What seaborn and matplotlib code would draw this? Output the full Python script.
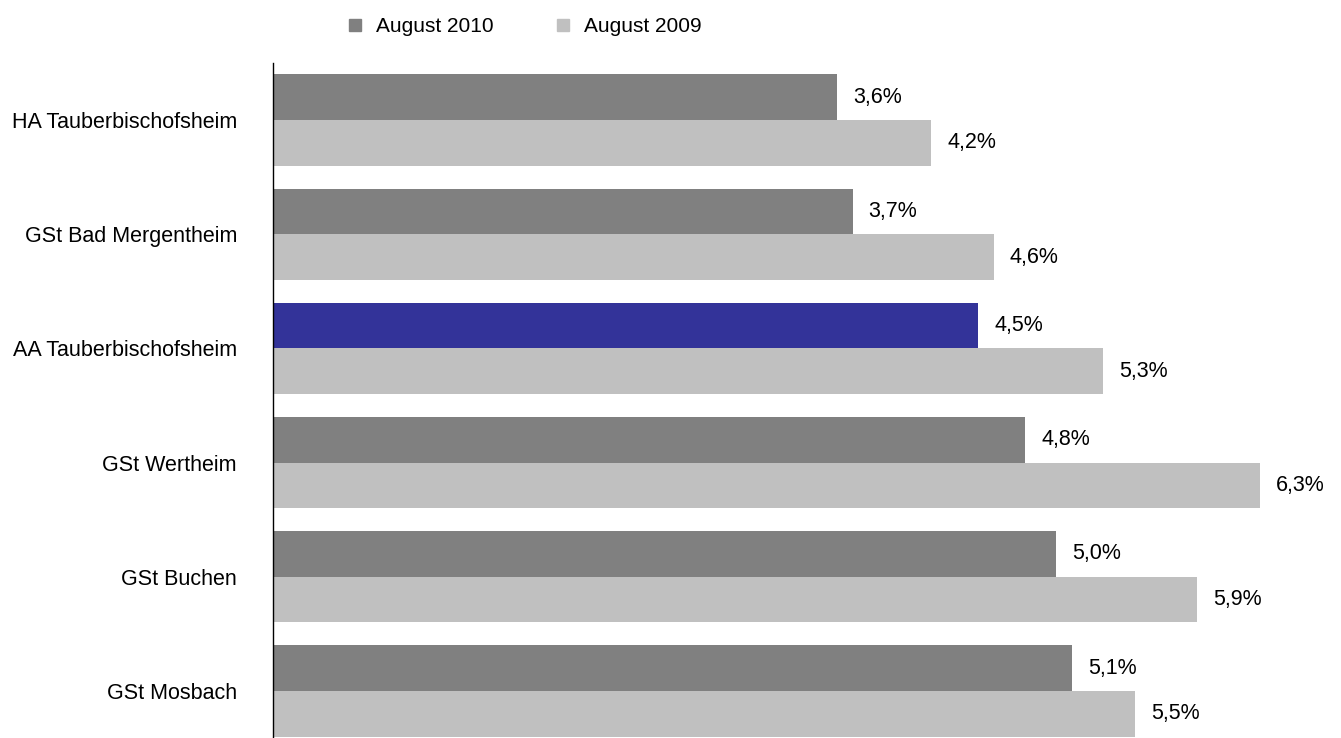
import matplotlib.pyplot as plt
import seaborn as sns
import pandas as pd
from matplotlib.lines import Line2D

# =========================
# DATA
# =========================
regions = ["HA Tauberbischofsheim", "GSt Bad Mergentheim", "AA Tauberbischofsheim",
           "GSt Wertheim", "GSt Buchen", "GSt Mosbach"]
aug_2010 = [3.6, 3.7, 4.5, 4.8, 5.0, 5.1]
aug_2009 = [4.2, 4.6, 5.3, 6.3, 5.9, 5.5]
series = ["August 2010", "August 2009"]

df = pd.DataFrame({
    "region": regions * 2,
    "rate": aug_2010 + aug_2009,
    "period": [series[0]] * len(regions) + [series[1]] * len(regions),
})

dark = "#808080"
light = "#C0C0C0"
highlight = "#333399"

sns.set_style("white")
plt.rcParams["font.family"] = ["Liberation Sans", "DejaVu Sans"]

fig = plt.figure(figsize=(13.41, 7.38), dpi=100)
ax = fig.add_axes([273 / 1341, 1 - 748 / 738, 1018.5 / 1341, 685 / 738])

sns.barplot(data=df, x="rate", y="region", hue="period", hue_order=series,
            palette=[dark, light], orient="h", width=0.8, saturation=1,
            legend=False, linewidth=0, ax=ax)

# highlight the Agentur row
ax.containers[0][2].set_facecolor(highlight)

for cont in ax.containers:
    vals = [p.get_width() for p in cont]
    ax.bar_label(cont, labels=[f"{v:.1f}%".replace(".", ",") for v in vals],
                 padding=11.5, fontsize=15.5, color="black")

ax.set_xlim(0, 6.5)
ax.set_xlabel("")
ax.set_ylabel("")
ax.set_xticks([])
ax.tick_params(axis="y", length=0, pad=26, labelsize=15.5, labelcolor="black")
for side in ["top", "right", "bottom"]:
    ax.spines[side].set_visible(False)
ax.spines["left"].set_color("black")
ax.spines["left"].set_linewidth(1)

handles = [Line2D([], [], marker="s", linestyle="", markersize=8.6, color=c) for c in [dark, light]]
fig.legend(handles, series, loc="center", bbox_to_anchor=(0.390, 1 - 27 / 738),
           ncol=2, frameon=False, fontsize=15, handletextpad=0.51, columnspacing=2.82,
           handlelength=1.0, labelcolor="black")

fig.savefig("out.png", dpi=100)
